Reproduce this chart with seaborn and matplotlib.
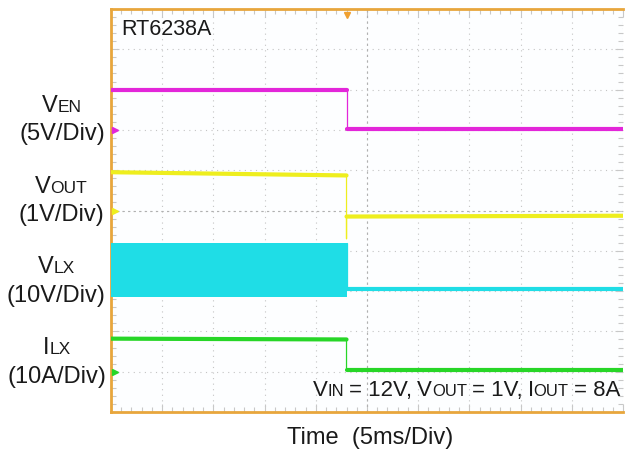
import numpy as np
import pandas as pd
import matplotlib
matplotlib.use("Agg")
import matplotlib.pyplot as plt
import seaborn as sns
from matplotlib.ticker import AutoMinorLocator
from matplotlib.transforms import IdentityTransform

sns.set_theme(style="white")
plt.rcParams['font.family'] = ['Liberation Sans', 'DejaVu Sans']

# ---- scope traces (time in ms, values in physical units) ----
ven_t = [-25, -2.0, -2.0, 25]
ven_v = [5.0, 5.0, 0.05, 0.05]

vout_t = [-25, -2.0, -2.0, -2.0, 25]
vout_v = [0.95, 0.87, -0.7, -0.15, -0.13]

vlx_band_t = [-25, -2.0]
vlx_band_hi = [12.0, 12.0]
vlx_band_lo = [-1.5, -1.5]
vlx_t = [-2.0, -2.0, 25]
vlx_v = [12.0, 0.4, 0.4]

ilx_t = [-25, -2.0, -2.0, 25]
ilx_a = [8.2, 8.0, 0.4, 0.4]

# channel settings: units per division, ground position in divisions
channels = ['VEN', 'VOUT', 'VLX', 'ILX']
scale = {'VEN': 5.0, 'VOUT': 1.0, 'VLX': 10.0, 'ILX': 10.0}
offset = {'VEN': 2.0, 'VOUT': 0.0, 'VLX': -2.0, 'ILX': -4.0}
colors = {'VEN': '#E326D9', 'VOUT': '#EEEE1E', 'VLX': '#1FDDE6', 'ILX': '#27D627'}

trigger_ms = -2.0

W, H = 625, 451
fig = plt.figure(figsize=(W / 100, H / 100), dpi=100)
ax = fig.add_axes([111 / W, 39 / H, 512 / W, 403 / H])


def to_div(ch, vals):
    return [offset[ch] + v / scale[ch] for v in vals]


rows = []
for ch, t, v in [('VEN', ven_t, ven_v), ('VOUT', vout_t, vout_v),
                 ('VLX', vlx_t, vlx_v), ('ILX', ilx_t, ilx_a)]:
    seg = 0
    for i, (ti, di) in enumerate(zip(t, to_div(ch, v))):
        if i > 0 and ti == t[i - 1]:
            seg += 1
        rows.append({'channel': ch, 'time': ti, 'div': di, 'seg': f'{ch}{seg}'})
df = pd.DataFrame(rows)

# VLX switching band
ax.fill_between(vlx_band_t, to_div('VLX', vlx_band_lo), to_div('VLX', vlx_band_hi),
                color=colors['VLX'], lw=0, zorder=3)

# thin edges (full path) + thick flat parts
sns.lineplot(data=df, x='time', y='div', hue='channel', units='channel', estimator=None,
             sort=False, palette=colors, lw=0.9, legend=False, ax=ax, zorder=3)
thick = df.groupby('seg').filter(lambda g: len(g) > 1)
sns.lineplot(data=thick, x='time', y='div', hue='channel', units='seg', estimator=None,
             sort=False, palette=colors, lw=3.0, legend=False, ax=ax, zorder=4)

# ground markers and trigger marker
for ch in channels:
    ax.plot(-24.6, offset[ch], marker='>', ms=5, color=colors[ch], clip_on=False, zorder=5)
ax.plot(trigger_ms, 4.85, marker='v', ms=5, color='#F0A030', clip_on=False, zorder=5)

ax.set_xlim(-25, 25)
ax.set_ylim(-5, 5)
ax.set_xticks(np.arange(-25, 26, 5))
ax.set_yticks(np.arange(-5, 6, 1))
ax.xaxis.set_minor_locator(AutoMinorLocator(5))
ax.yaxis.set_minor_locator(AutoMinorLocator(5))
ax.tick_params(which='both', direction='in', top=True, right=True, left=True, bottom=True,
               labelbottom=False, labelleft=False, color='#C8C8C8', width=0.8)
ax.tick_params(which='major', length=6)
ax.tick_params(which='minor', length=3.5)
ax.grid(True, which='major', ls=(0, (1, 4)), color='#C4C4C4', lw=0.8)
ax.axhline(0, ls=(0, (2, 3)), color='#B0B0B0', lw=0.8, zorder=1)
ax.axvline(0, ls=(0, (2, 3)), color='#B0B0B0', lw=0.8, zorder=1)
ax.set_xlabel('')
ax.set_ylabel('')
ax.set_facecolor('#FDFEFF')
for side in ['left', 'bottom', 'top']:
    ax.spines[side].set_color('#E8A63C')
    ax.spines[side].set_linewidth(2.0)
ax.spines['right'].set_visible(False)

renderer = fig.canvas.get_renderer()


def rich_text(x, y, pieces, ha='left', color='#1A1A1A'):
    # pieces: (text, fontsize, gap before in px); y is baseline from top in px
    arts = []
    cx = 0.0
    for s, size, gap in pieces:
        cx += gap
        t = fig.text(cx, H - y, s, fontsize=size, color=color, va='baseline', ha='left',
                     transform=IdentityTransform())
        arts.append((t, cx))
        cx = t.get_window_extent(renderer).x1
    shift = x - {'left': 0.0, 'center': cx / 2, 'right': cx}[ha]
    for t, px in arts:
        t.set_x(px + shift)


big, small = 17, 12.5
labels = [
    (62, 112, 140, 'V', 'EN', '(5V/Div)'),
    (61, 193, 221, 'V', 'OUT', '(1V/Div)'),
    (56, 273, 302, 'V', 'LX', '(10V/Div)'),
    (57, 354, 383, 'I', 'LX', '(10A/Div)'),
]
for cxp, y1, y2, main, sub, unit in labels:
    rich_text(cxp, y1, [(main, big, 0), (sub, small, 0)], ha='center')
    rich_text(cxp, y2, [(unit, big, 0)], ha='center')

rich_text(121, 35, [('RT6238A', 15.5, 0)])
rich_text(370, 444, [('Time  (5ms/Div)', big, 0)], ha='center')
rich_text(620, 396, [('V', 16, 0), ('IN', 12, 0), ('= 12V,', 16, 5),
                     ('V', 16, 5), ('OUT', 12, 0), ('= 1V,', 16, 5),
                     ('I', 16, 5), ('OUT', 12, 0), ('= 8A', 16, 5)], ha='right')

fig.savefig('out.png', dpi=100)
